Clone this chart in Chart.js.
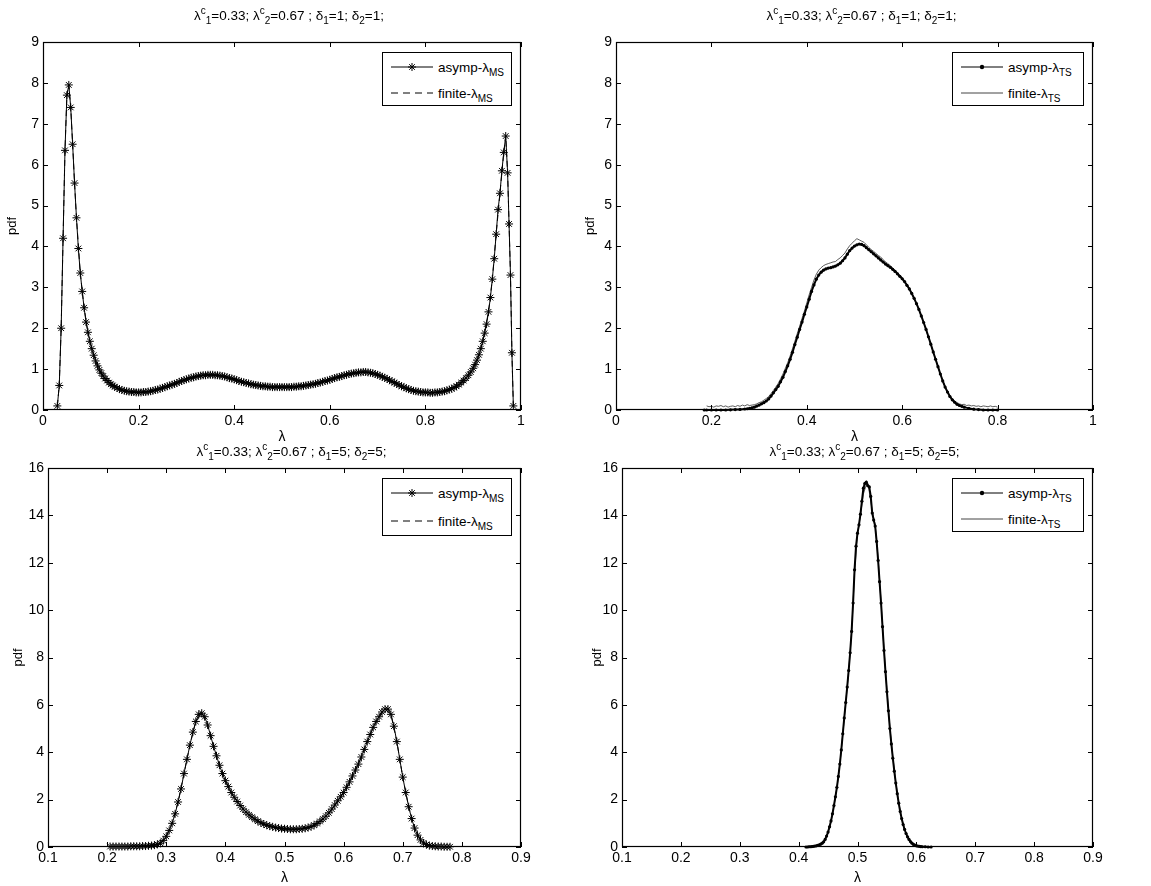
<!DOCTYPE html>
<html><head><meta charset="utf-8">
<script src="https://cdn.jsdelivr.net/npm/chart.js@4.4.0/dist/chart.umd.min.js"></script>
<style>
html,body{margin:0;padding:0;background:#fff;}
body{width:1151px;height:886px;position:relative;overflow:hidden;font-family:"Liberation Sans",Arial,Helvetica,sans-serif;color:#000;}
.panel{position:absolute;}
.ttl{position:absolute;font-size:13.5px;white-space:nowrap;transform:translate(-50%,-50%);line-height:16px;}
.ttl sup,.ttl sub,.lg sub{font-size:10px;line-height:0;position:relative;vertical-align:baseline;}
.ttl sup{top:-6px;} .ttl sub{top:4px;}
.lg{position:absolute;border:1px solid #000;background:#fff;box-sizing:border-box;font-size:13.5px;}
.lg .row{position:absolute;left:0;height:20px;display:flex;align-items:center;white-space:nowrap;}
.lg .row svg{margin-left:8px;margin-right:5px;}
.lg sub{top:4px;}
</style></head><body>
<script>
// ---------------- data ----------------
const topXTicks = [0, 0.2, 0.4, 0.6, 0.8, 1];
const topXLabels = ['0', '0.2', '0.4', '0.6', '0.8', '1'];
const topYTicks = [0, 1, 2, 3, 4, 5, 6, 7, 8, 9];
const topYLabels = ['0', '1', '2', '3', '4', '5', '6', '7', '8', '9'];
const botXTicks = [0.1, 0.2, 0.3, 0.4, 0.5, 0.6, 0.7, 0.8, 0.9];
const botXLabels = ['0.1', '0.2', '0.3', '0.4', '0.5', '0.6', '0.7', '0.8', '0.9'];
const botYTicks = [0, 2, 4, 6, 8, 10, 12, 14, 16];
const botYLabels = ['0', '2', '4', '6', '8', '10', '12', '14', '16'];

const titleTop = ['λ<sup>c</sup><sub>1</sub>=0.33; λ<sup>c</sup><sub>2</sub>=0.67 ; δ<sub>1</sub>=1; δ<sub>2</sub>=1;'];
const titleBot = ['λ<sup>c</sup><sub>1</sub>=0.33; λ<sup>c</sup><sub>2</sub>=0.67 ; δ<sub>1</sub>=5; δ<sub>2</sub>=5;'];

// delta=1, asymptotic lambda_MS  [lambda, pdf]
const tlAsymp = [
[0.030,0.10],[0.034,0.60],[0.038,2.00],[0.042,4.20],[0.046,6.35],[0.050,7.70],[0.054,7.95],[0.058,7.40],
[0.062,6.50],[0.066,5.55],[0.070,4.70],[0.074,3.95],[0.078,3.35],[0.082,2.90],[0.086,2.50],[0.090,2.15],
[0.094,1.90],[0.098,1.68],[0.102,1.50],[0.106,1.34],[0.110,1.20],[0.114,1.08],[0.118,0.98],[0.122,0.90],
[0.126,0.83],[0.130,0.77],[0.134,0.72],[0.138,0.67],[0.142,0.63],[0.146,0.60],[0.150,0.57],[0.155,0.54],
[0.160,0.51],[0.165,0.49],[0.170,0.47],[0.175,0.46],[0.180,0.45],[0.185,0.44],[0.190,0.44],[0.195,0.43],
[0.200,0.43],[0.205,0.43],[0.210,0.44],[0.215,0.44],[0.220,0.45],[0.225,0.46],[0.230,0.47],[0.235,0.49],
[0.240,0.50],[0.245,0.52],[0.250,0.54],[0.255,0.56],[0.260,0.58],[0.265,0.60],[0.270,0.62],[0.275,0.64],
[0.280,0.66],[0.285,0.69],[0.290,0.71],[0.295,0.73],[0.300,0.75],[0.305,0.77],[0.310,0.79],[0.315,0.80],
[0.320,0.82],[0.325,0.83],[0.330,0.84],[0.335,0.85],[0.340,0.85],[0.345,0.86],[0.350,0.86],[0.355,0.86],
[0.360,0.85],[0.365,0.85],[0.370,0.84],[0.375,0.83],[0.380,0.82],[0.385,0.80],[0.390,0.78],[0.395,0.77],
[0.400,0.75],[0.405,0.73],[0.410,0.71],[0.415,0.69],[0.420,0.68],[0.425,0.66],[0.430,0.65],[0.435,0.63],
[0.440,0.62],[0.445,0.61],[0.450,0.60],[0.455,0.59],[0.460,0.58],[0.465,0.58],[0.470,0.57],[0.475,0.57],
[0.480,0.56],[0.485,0.56],[0.490,0.56],[0.495,0.56],[0.500,0.56],[0.505,0.56],[0.510,0.56],[0.515,0.56],
[0.520,0.56],[0.525,0.57],[0.530,0.57],[0.535,0.58],[0.540,0.58],[0.545,0.59],[0.550,0.60],[0.555,0.61],
[0.560,0.62],[0.565,0.63],[0.570,0.64],[0.575,0.66],[0.580,0.67],[0.585,0.69],[0.590,0.71],[0.595,0.72],
[0.600,0.74],[0.605,0.76],[0.610,0.78],[0.615,0.80],[0.620,0.81],[0.625,0.83],[0.630,0.85],[0.635,0.86],
[0.640,0.88],[0.645,0.89],[0.650,0.90],[0.655,0.91],[0.660,0.92],[0.665,0.92],[0.670,0.93],[0.675,0.93],
[0.680,0.92],[0.685,0.91],[0.690,0.90],[0.695,0.88],[0.700,0.86],[0.705,0.84],[0.710,0.81],[0.715,0.79],
[0.720,0.76],[0.725,0.73],[0.730,0.70],[0.735,0.67],[0.740,0.64],[0.745,0.61],[0.750,0.58],[0.755,0.56],
[0.760,0.53],[0.765,0.51],[0.770,0.49],[0.775,0.47],[0.780,0.46],[0.785,0.45],[0.790,0.44],[0.795,0.43],
[0.800,0.43],[0.805,0.43],[0.810,0.42],[0.815,0.42],[0.820,0.43],[0.825,0.43],[0.830,0.44],[0.835,0.45],
[0.840,0.46],[0.845,0.48],[0.850,0.50],[0.855,0.52],[0.860,0.55],[0.865,0.58],[0.870,0.62],[0.875,0.67],
[0.880,0.72],[0.885,0.78],[0.890,0.85],[0.895,0.93],[0.900,1.02],[0.904,1.11],[0.908,1.22],[0.912,1.35],
[0.916,1.50],[0.920,1.68],[0.924,1.88],[0.928,2.10],[0.932,2.40],[0.936,2.75],[0.940,3.20],[0.944,3.70],
[0.948,4.30],[0.952,4.90],[0.956,5.30],[0.960,5.85],[0.964,6.30],[0.968,6.70],[0.972,5.80],[0.975,4.55],
[0.978,3.30],[0.981,1.40],[0.984,0.10]
];
// delta=1, finite-sample lambda_MS
const tlFinite = [
[0.030,0.10],[0.034,0.60],[0.038,2.00],[0.042,4.20],[0.046,6.35],[0.050,7.70],[0.054,7.95],[0.058,7.40],
[0.062,6.50],[0.066,5.55],[0.070,4.70],[0.078,3.35],[0.086,2.50],[0.094,1.90],[0.102,1.50],[0.110,1.20],
[0.122,0.90],[0.134,0.72],[0.150,0.57],[0.170,0.47],[0.190,0.44],[0.210,0.44],[0.230,0.47],[0.250,0.54],
[0.270,0.62],[0.290,0.71],[0.310,0.79],[0.330,0.84],[0.350,0.86],[0.370,0.84],[0.390,0.78],[0.410,0.71],
[0.430,0.65],[0.450,0.60],[0.470,0.57],[0.490,0.56],[0.510,0.56],[0.530,0.57],[0.550,0.60],[0.570,0.64],
[0.590,0.71],[0.610,0.78],[0.630,0.85],[0.650,0.90],[0.670,0.93],[0.690,0.90],[0.710,0.81],[0.730,0.70],
[0.750,0.58],[0.770,0.49],[0.790,0.44],[0.810,0.42],[0.830,0.44],[0.850,0.50],[0.870,0.62],[0.890,0.85],
[0.910,1.28],[0.920,1.68],[0.932,2.40],[0.940,3.20],[0.948,4.30],[0.956,5.30],[0.964,6.30],[0.968,6.70],
[0.972,5.80],[0.975,4.55],[0.978,3.30],[0.981,1.40],[0.984,0.10]
];
// delta=1, asymptotic lambda_TS
const trAsymp = [
[0.185,0.00],[0.190,0.00],[0.200,0.00],[0.210,0.00],[0.220,0.00],[0.230,0.00],[0.240,0.005],[0.250,0.01],
[0.260,0.015],[0.270,0.025],[0.275,0.03],[0.280,0.04],[0.285,0.055],[0.290,0.07],[0.295,0.095],[0.300,0.12],
[0.305,0.15],[0.310,0.18],[0.315,0.22],[0.320,0.27],[0.325,0.34],[0.330,0.42],[0.335,0.50],[0.340,0.58],
[0.345,0.69],[0.350,0.80],[0.355,0.94],[0.360,1.08],[0.365,1.24],[0.370,1.41],[0.375,1.60],[0.380,1.78],
[0.385,1.97],[0.390,2.15],[0.395,2.34],[0.400,2.52],[0.405,2.71],[0.410,2.90],[0.415,3.06],[0.420,3.20],
[0.425,3.30],[0.430,3.37],[0.435,3.42],[0.440,3.45],[0.445,3.47],[0.450,3.48],[0.455,3.50],[0.460,3.52],
[0.465,3.55],[0.470,3.59],[0.475,3.65],[0.480,3.72],[0.485,3.81],[0.490,3.90],[0.495,3.96],[0.500,4.01],
[0.505,4.04],[0.510,4.06],[0.515,4.05],[0.520,4.02],[0.525,3.97],[0.530,3.92],[0.535,3.87],[0.540,3.82],
[0.545,3.77],[0.550,3.72],[0.555,3.67],[0.560,3.62],[0.565,3.57],[0.570,3.53],[0.575,3.49],[0.580,3.44],
[0.585,3.39],[0.590,3.33],[0.595,3.27],[0.600,3.21],[0.605,3.14],[0.610,3.05],[0.615,2.96],[0.620,2.85],
[0.625,2.73],[0.630,2.60],[0.635,2.46],[0.640,2.30],[0.645,2.14],[0.650,1.97],[0.655,1.79],[0.660,1.61],
[0.665,1.42],[0.670,1.24],[0.675,1.06],[0.680,0.88],[0.685,0.71],[0.690,0.56],[0.695,0.44],[0.700,0.33],
[0.705,0.25],[0.710,0.19],[0.715,0.14],[0.720,0.11],[0.725,0.09],[0.730,0.07],[0.740,0.04],[0.750,0.02],
[0.760,0.01],[0.770,0.00],[0.780,0.00],[0.790,0.00],[0.800,0.00]
];
// delta=1, finite-sample lambda_TS
const trFinite = [
[0.190,0.10],[0.195,0.08],[0.200,0.09],[0.205,0.07],[0.210,0.10],[0.215,0.09],[0.220,0.11],[0.225,0.08],
[0.230,0.10],[0.235,0.07],[0.240,0.09],[0.245,0.10],[0.250,0.08],[0.255,0.11],[0.260,0.09],[0.265,0.12],
[0.270,0.10],[0.275,0.13],[0.280,0.11],[0.285,0.12],[0.290,0.13],[0.295,0.15],[0.300,0.18],[0.305,0.20],
[0.310,0.24],[0.315,0.28],[0.320,0.33],[0.325,0.40],[0.330,0.48],[0.335,0.56],[0.340,0.65],[0.345,0.76],
[0.350,0.88],[0.355,1.02],[0.360,1.16],[0.365,1.32],[0.370,1.50],[0.375,1.68],[0.380,1.87],[0.385,2.05],
[0.390,2.24],[0.395,2.42],[0.400,2.62],[0.405,2.82],[0.410,3.00],[0.415,3.18],[0.420,3.32],[0.425,3.42],
[0.430,3.48],[0.435,3.53],[0.440,3.56],[0.445,3.58],[0.450,3.60],[0.455,3.62],[0.460,3.63],[0.465,3.68],
[0.470,3.72],[0.475,3.78],[0.480,3.84],[0.485,3.94],[0.490,4.02],[0.495,4.08],[0.500,4.14],[0.505,4.19],
[0.510,4.16],[0.515,4.13],[0.520,4.10],[0.525,4.04],[0.530,3.98],[0.535,3.92],[0.540,3.88],[0.545,3.83],
[0.550,3.78],[0.555,3.74],[0.560,3.68],[0.565,3.62],[0.570,3.58],[0.575,3.53],[0.580,3.48],[0.585,3.42],
[0.590,3.37],[0.595,3.30],[0.600,3.23],[0.605,3.15],[0.610,3.06],[0.615,2.97],[0.620,2.86],[0.625,2.74],
[0.630,2.60],[0.635,2.45],[0.640,2.30],[0.645,2.13],[0.650,1.96],[0.655,1.78],[0.660,1.60],[0.665,1.42],
[0.670,1.24],[0.675,1.05],[0.680,0.88],[0.685,0.72],[0.690,0.57],[0.695,0.45],[0.700,0.35],[0.705,0.28],
[0.710,0.22],[0.715,0.18],[0.720,0.15],[0.725,0.13],[0.730,0.14],[0.735,0.11],[0.740,0.12],[0.745,0.10],
[0.750,0.11],[0.755,0.09],[0.760,0.10],[0.765,0.08],[0.770,0.10],[0.775,0.09],[0.780,0.08],[0.785,0.10],
[0.790,0.08],[0.795,0.09],[0.800,0.07]
];
// delta=5, asymptotic lambda_MS
const blAsymp = [
[0.205,0.02],[0.210,0.02],[0.215,0.02],[0.220,0.02],[0.225,0.02],[0.230,0.02],[0.235,0.02],[0.240,0.03],
[0.245,0.03],[0.250,0.03],[0.255,0.03],[0.260,0.04],[0.265,0.04],[0.270,0.05],[0.275,0.06],[0.280,0.08],
[0.285,0.11],[0.290,0.16],[0.295,0.27],[0.300,0.45],[0.305,0.70],[0.310,1.00],[0.315,1.40],[0.320,1.90],
[0.325,2.45],[0.330,3.10],[0.335,3.70],[0.340,4.30],[0.345,4.85],[0.350,5.30],[0.355,5.60],[0.360,5.65],
[0.365,5.50],[0.370,5.15],[0.375,4.70],[0.380,4.25],[0.385,3.85],[0.390,3.45],[0.395,3.10],[0.400,2.80],
[0.405,2.55],[0.410,2.30],[0.415,2.10],[0.420,1.92],[0.425,1.75],[0.430,1.60],[0.435,1.47],[0.440,1.36],
[0.445,1.26],[0.450,1.17],[0.455,1.09],[0.460,1.02],[0.465,0.97],[0.470,0.92],[0.475,0.88],[0.480,0.85],
[0.485,0.82],[0.490,0.80],[0.495,0.78],[0.500,0.77],[0.505,0.76],[0.510,0.75],[0.515,0.75],[0.520,0.75],
[0.525,0.76],[0.530,0.77],[0.535,0.79],[0.540,0.82],[0.545,0.86],[0.550,0.92],[0.555,0.99],[0.560,1.08],
[0.565,1.18],[0.570,1.30],[0.575,1.44],[0.580,1.60],[0.585,1.77],[0.590,1.95],[0.595,2.12],[0.600,2.30],
[0.605,2.52],[0.610,2.75],[0.615,3.00],[0.620,3.25],[0.625,3.50],[0.630,3.80],[0.635,4.12],[0.640,4.45],
[0.645,4.75],[0.650,5.05],[0.655,5.30],[0.660,5.50],[0.665,5.70],[0.670,5.82],[0.675,5.82],[0.680,5.60],
[0.685,5.10],[0.690,4.45],[0.695,3.70],[0.700,2.95],[0.705,2.30],[0.710,1.70],[0.715,1.20],[0.720,0.80],
[0.725,0.50],[0.730,0.30],[0.735,0.17],[0.740,0.10],[0.745,0.06],[0.750,0.04],[0.755,0.03],[0.760,0.02],
[0.765,0.02],[0.770,0.01],[0.775,0.01],[0.780,0.01]
];
// delta=5, finite-sample lambda_MS
const blFinite = [
[0.205,0.02],[0.220,0.02],[0.240,0.03],[0.260,0.04],[0.280,0.08],[0.290,0.16],[0.300,0.45],[0.310,1.00],
[0.320,1.90],[0.330,3.10],[0.340,4.30],[0.350,5.30],[0.360,5.65],[0.370,5.15],[0.380,4.25],[0.390,3.45],
[0.400,2.80],[0.410,2.30],[0.420,1.92],[0.430,1.60],[0.440,1.36],[0.450,1.17],[0.460,1.02],[0.470,0.92],
[0.480,0.85],[0.490,0.80],[0.500,0.77],[0.510,0.75],[0.520,0.75],[0.530,0.77],[0.540,0.82],[0.550,0.92],
[0.560,1.08],[0.570,1.30],[0.580,1.60],[0.590,1.95],[0.600,2.30],[0.610,2.75],[0.620,3.25],[0.630,3.80],
[0.640,4.45],[0.650,5.05],[0.660,5.50],[0.670,5.82],[0.680,5.60],[0.690,4.45],[0.700,2.95],[0.710,1.70],
[0.720,0.80],[0.730,0.30],[0.740,0.10],[0.750,0.04],[0.760,0.02],[0.770,0.01],[0.780,0.01]
];
// delta=5, asymptotic lambda_TS
const brAsymp = [
[0.4125,0.00],[0.4150,0.00],[0.4175,0.01],[0.4200,0.01],[0.4225,0.02],[0.4250,0.03],[0.4275,0.04],[0.4300,0.05],
[0.4325,0.07],[0.4350,0.09],[0.4375,0.12],[0.4400,0.16],[0.4425,0.22],[0.4450,0.32],[0.4475,0.46],[0.4500,0.63],
[0.4525,0.85],[0.4550,1.10],[0.4575,1.40],[0.4600,1.75],[0.4625,2.12],[0.4650,2.52],[0.4675,2.98],[0.4700,3.50],
[0.4725,4.10],[0.4750,4.78],[0.4775,5.45],[0.4800,6.10],[0.4825,6.75],[0.4850,7.45],[0.4875,8.20],[0.4900,9.10],
[0.4925,10.30],[0.4950,11.70],[0.4975,12.70],[0.5000,13.25],[0.5025,13.60],[0.5050,14.05],[0.5075,14.60],[0.5100,15.15],
[0.5125,15.35],[0.5150,15.40],[0.5175,15.25],[0.5200,15.20],[0.5225,14.80],[0.5250,14.10],[0.5275,13.80],[0.5300,13.55],
[0.5325,12.90],[0.5350,12.10],[0.5375,11.20],[0.5400,10.30],[0.5425,9.30],[0.5450,8.30],[0.5475,7.40],[0.5500,6.55],
[0.5525,5.75],[0.5550,5.00],[0.5575,4.35],[0.5600,3.75],[0.5625,3.20],[0.5650,2.70],[0.5675,2.25],[0.5700,1.85],
[0.5725,1.50],[0.5750,1.20],[0.5775,0.95],[0.5800,0.74],[0.5825,0.57],[0.5850,0.43],[0.5875,0.32],[0.5900,0.23],
[0.5925,0.16],[0.5950,0.11],[0.5975,0.08],[0.6000,0.05],[0.6025,0.04],[0.6050,0.03],[0.6075,0.02],[0.6100,0.01],
[0.6150,0.01],[0.6200,0.00],[0.6250,0.00]
];
// delta=5, finite-sample lambda_TS
const brFinite = [
[0.415,0.00],[0.420,0.01],[0.430,0.04],[0.440,0.15],[0.445,0.30],[0.450,0.62],[0.455,1.08],[0.460,1.73],
[0.465,2.50],[0.470,3.48],[0.475,4.75],[0.480,6.08],[0.485,7.43],[0.490,9.05],[0.495,11.60],[0.500,13.20],
[0.505,14.00],[0.510,14.90],[0.515,15.30],[0.518,15.35],[0.520,15.00],[0.525,14.20],[0.530,13.60],[0.535,12.20],
[0.540,10.35],[0.545,8.35],[0.550,6.60],[0.555,5.05],[0.560,3.80],[0.565,2.75],[0.570,1.88],[0.575,1.22],
[0.580,0.76],[0.585,0.44],[0.590,0.24],[0.595,0.12],[0.600,0.06],[0.610,0.02],[0.620,0.00]
];

// ---------------- layout ----------------
const FONT = '"Liberation Sans", Arial, Helvetica, sans-serif';
const panels = [
  {box:{l:0,t:0,w:575,h:450}, plot:{l:43,r:521,t:42,b:410}, xr:[0,1], yr:[0,9],
   xt:topXTicks, xl:topXLabels, yt:topYTicks, yl:topYLabels, title:titleTop[0], titleY:16, pdfX:12, lamPad:6,
   legend:{w:130,h:54},
   sets:[{label:'asymp-λ_MS', data:tlAsymp, kind:'star'},{label:'finite-λ_MS', data:tlFinite, kind:'dash'}]},
  {box:{l:575,t:0,w:576,h:450}, plot:{l:616,r:1093,t:42,b:410}, xr:[0,1], yr:[0,9],
   xt:topXTicks, xl:topXLabels, yt:topYTicks, yl:topYLabels, title:titleTop[0], titleY:16, pdfX:590, lamPad:6,
   legend:{w:132,h:54},
   sets:[{label:'asymp-λ_TS', data:trAsymp, kind:'dot'},{label:'finite-λ_TS', data:trFinite, kind:'thin'}]},
  {box:{l:0,t:450,w:575,h:436}, plot:{l:48,r:521,t:468,b:847}, xr:[0.1,0.9], yr:[0,16],
   xt:botXTicks, xl:botXLabels, yt:botYTicks, yl:botYLabels, title:titleBot[0], titleY:452, pdfX:18, lamPad:1,
   legend:{w:130,h:58},
   sets:[{label:'asymp-λ_MS', data:blAsymp, kind:'star'},{label:'finite-λ_MS', data:blFinite, kind:'dash'}]},
  {box:{l:575,t:450,w:576,h:436}, plot:{l:622,r:1093,t:468,b:847}, xr:[0.1,0.9], yr:[0,16],
   xt:botXTicks, xl:botXLabels, yt:botYTicks, yl:botYLabels, title:titleBot[0], titleY:452, pdfX:597, lamPad:1,
   legend:{w:132,h:54},
   sets:[{label:'asymp-λ_TS', data:brAsymp, kind:'dot'},{label:'finite-λ_TS', data:brFinite, kind:'thin'}]}
];

const styles = {
  star:{borderColor:'#000', borderWidth:1, pointStyle:'star', pointRadius:4, pointBorderWidth:1, pointBorderColor:'#000', pointBackgroundColor:'#000'},
  dash:{borderColor:'#000', borderWidth:1, borderDash:[6,4], pointRadius:0},
  dot:{borderColor:'#000', borderWidth:2, pointStyle:'circle', pointRadius:1.6, pointBorderWidth:0, pointBackgroundColor:'#000'},
  thin:{borderColor:'#333', borderWidth:0.8, pointRadius:0}
};

const matlabAxes = {
  id:'matlabAxes',
  afterDatasetsDraw(chart){
    const {ctx, chartArea:a, scales:{x, y}} = chart;
    ctx.save();
    ctx.strokeStyle = '#000'; ctx.lineWidth = 1;
    const L = 5;
    ctx.beginPath();
    x.ticks.forEach(t => {
      const px = Math.round(x.getPixelForValue(t.value)) + 0.5;
      ctx.moveTo(px, a.bottom); ctx.lineTo(px, a.bottom - L);
      ctx.moveTo(px, a.top); ctx.lineTo(px, a.top + L);
    });
    y.ticks.forEach(t => {
      const py = Math.round(y.getPixelForValue(t.value)) + 0.5;
      ctx.moveTo(a.left, py); ctx.lineTo(a.left + L, py);
      ctx.moveTo(a.right, py); ctx.lineTo(a.right - L, py);
    });
    ctx.stroke();
    ctx.lineWidth = 1.2;
    ctx.strokeRect(Math.round(a.left)+0.5, Math.round(a.top)+0.5, Math.round(a.right-a.left)-1, Math.round(a.bottom-a.top)-1);
    ctx.restore();
  }
};

function legendSample(kind){
  const s = styles[kind];
  let svg = '<svg width="42" height="14" viewBox="0 0 42 14">';
  const dash = s.borderDash ? ' stroke-dasharray="7,5"' : '';
  const col = kind === 'thin' ? '#444' : '#000';
  svg += `<line x1="0" y1="7" x2="42" y2="7" stroke="${col}" stroke-width="1"${dash}/>`;
  if (s.pointStyle === 'star'){
    svg += '<g stroke="#000" stroke-width="1"><line x1="21" y1="3" x2="21" y2="11"/><line x1="17" y1="7" x2="25" y2="7"/><line x1="18.2" y1="4.2" x2="23.8" y2="9.8"/><line x1="18.2" y1="9.8" x2="23.8" y2="4.2"/></g>';
  } else if (s.pointStyle === 'circle'){
    svg += '<circle cx="21" cy="7" r="2.2" fill="#000"/>';
  }
  return svg + '</svg>';
}
function labelHtml(lbl){
  const [base, sub] = lbl.split('_');
  return base + (sub ? '<sub>' + sub + '</sub>' : '');
}

panels.forEach(p => {
  const div = document.createElement('div');
  div.className = 'panel';
  Object.assign(div.style, {left:p.box.l+'px', top:p.box.t+'px', width:p.box.w+'px', height:p.box.h+'px'});
  const cv = document.createElement('canvas');
  div.appendChild(cv);
  document.body.appendChild(div);

  const yW = p.plot.l - p.box.l;
  const xH = p.box.t + p.box.h - p.plot.b;
  const padTop = p.plot.t - p.box.t;
  const padRight = p.box.l + p.box.w - p.plot.r;
  const pdfPad = p.pdfX - p.box.l - 6.5;

  const chart = new Chart(cv, {
    type:'line',
    data:{datasets: p.sets.map(s => Object.assign({
      label:s.label, data:s.data.map(d => ({x:d[0], y:d[1]})), fill:false, tension:0, clip:6
    }, styles[s.kind]))},
    options:{
      responsive:true, maintainAspectRatio:false, animation:false,
      layout:{padding:{top:padTop, right:padRight, left:0, bottom:0}},
      plugins:{legend:{display:false}, tooltip:{enabled:false}, title:{display:false}},
      scales:{
        x:{type:'linear', min:p.xr[0], max:p.xr[1],
          grid:{display:false, drawTicks:false, tickLength:0}, border:{display:false},
          afterBuildTicks:s => { s.ticks = p.xt.map(v => ({value:v})); },
          afterFit:s => { s.height = xH; s.paddingLeft = 0; s.paddingRight = 0; },
          ticks:{autoSkip:false, maxRotation:0, padding:3, color:'#000', font:{family:FONT, size:14},
            callback:(v, i) => p.xl[i]},
          title:{display:true, text:'λ', color:'#000', font:{family:FONT, size:14, lineHeight:1}, padding:{top:0, bottom:p.lamPad}}
        },
        y:{type:'linear', min:p.yr[0], max:p.yr[1],
          grid:{display:false, drawTicks:false, tickLength:0}, border:{display:false},
          afterBuildTicks:s => { s.ticks = p.yt.map(v => ({value:v})); },
          afterFit:s => { s.width = yW; s.paddingTop = 0; s.paddingBottom = 0; },
          ticks:{autoSkip:false, padding:4, color:'#000', font:{family:FONT, size:14},
            callback:(v, i) => p.yl[i]},
          title:{display:true, text:'pdf', color:'#000', font:{family:FONT, size:13, lineHeight:1}, padding:{top:pdfPad, bottom:0}}
        }
      }
    },
    plugins:[matlabAxes]
  });

  // title
  const t = document.createElement('div');
  t.className = 'ttl';
  t.innerHTML = p.title;
  Object.assign(t.style, {left:((p.plot.l + p.plot.r)/2 + 7)+'px', top:p.titleY+'px'});
  document.body.appendChild(t);

  // legend built from the chart's datasets
  const lg = document.createElement('div');
  lg.className = 'lg';
  Object.assign(lg.style, {left:(p.plot.r - 9 - p.legend.w)+'px', top:(p.plot.t + 10)+'px', width:p.legend.w+'px', height:p.legend.h+'px'});
  chart.data.datasets.forEach((ds, i) => {
    const row = document.createElement('div');
    row.className = 'row';
    row.style.top = (4 + i*(p.legend.h/2 - 1)) + 'px';
    row.innerHTML = legendSample(p.sets[i].kind) + '<span>' + labelHtml(ds.label) + '</span>';
    lg.appendChild(row);
  });
  document.body.appendChild(lg);
});
</script>
</body></html>
